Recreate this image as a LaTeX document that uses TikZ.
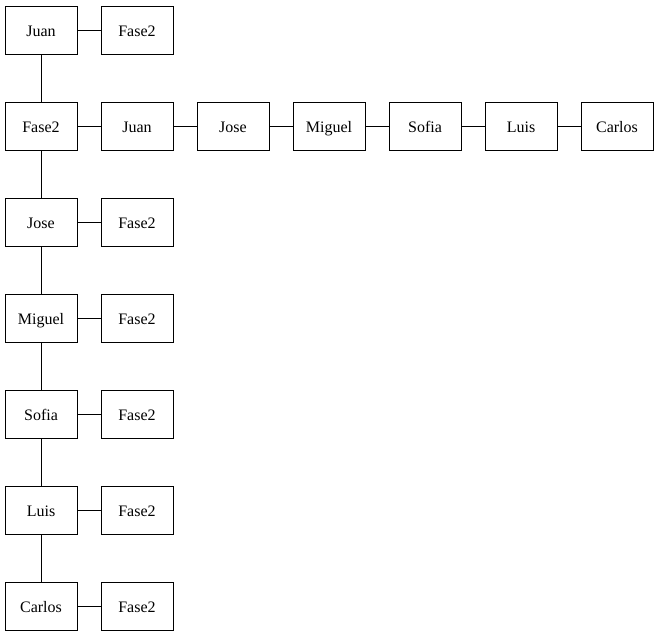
\documentclass[tikz,border=0pt]{standalone}
\usepackage{fontspec}
\setmainfont{Liberation Serif}
\begin{document}
\begin{tikzpicture}[x=1pt,y=-1pt,
  box/.style={draw,line width=1pt,minimum width=72pt,minimum height=48pt,inner sep=0pt,text height=14pt,text depth=1.5pt,font=\fontsize{16}{18}\selectfont},
  link/.style={line width=1pt}]
\useasboundingbox (0,0) rectangle (659,635);
% column 0
\node[box] (c0) at (41,30) {Juan};
\node[box] (r1c0) at (41,126) {Fase2};
\node[box] (r2c0) at (41,222) {Jose};
\node[box] (r3c0) at (41,318) {Miguel};
\node[box] (r4c0) at (41,414) {Sofia};
\node[box] (r5c0) at (41,510) {Luis};
\node[box] (r6c0) at (41,606) {Carlos};
% right of each
\node[box] (r0c1) at (137,30) {Fase2};
\node[box] (r2c1) at (137,222) {Fase2};
\node[box] (r3c1) at (137,318) {Fase2};
\node[box] (r4c1) at (137,414) {Fase2};
\node[box] (r5c1) at (137,510) {Fase2};
\node[box] (r6c1) at (137,606) {Fase2};
% row 1
\node[box] (r1c1) at (137,126) {Juan};
\node[box] (r1c2) at (233,126) {Jose};
\node[box] (r1c3) at (329,126) {Miguel};
\node[box] (r1c4) at (425,126) {Sofia};
\node[box] (r1c5) at (521,126) {Luis};
\node[box] (r1c6) at (617,126) {Carlos};
% vertical links
\draw[link] (c0) -- (r1c0);
\draw[link] (r1c0) -- (r2c0);
\draw[link] (r2c0) -- (r3c0);
\draw[link] (r3c0) -- (r4c0);
\draw[link] (r4c0) -- (r5c0);
\draw[link] (r5c0) -- (r6c0);
% horizontal links
\draw[link] (c0) -- (r0c1);
\draw[link] (r2c0) -- (r2c1);
\draw[link] (r3c0) -- (r3c1);
\draw[link] (r4c0) -- (r4c1);
\draw[link] (r5c0) -- (r5c1);
\draw[link] (r6c0) -- (r6c1);
\draw[link] (r1c0) -- (r1c1);
\draw[link] (r1c1) -- (r1c2);
\draw[link] (r1c2) -- (r1c3);
\draw[link] (r1c3) -- (r1c4);
\draw[link] (r1c4) -- (r1c5);
\draw[link] (r1c5) -- (r1c6);
\end{tikzpicture}
\end{document}
